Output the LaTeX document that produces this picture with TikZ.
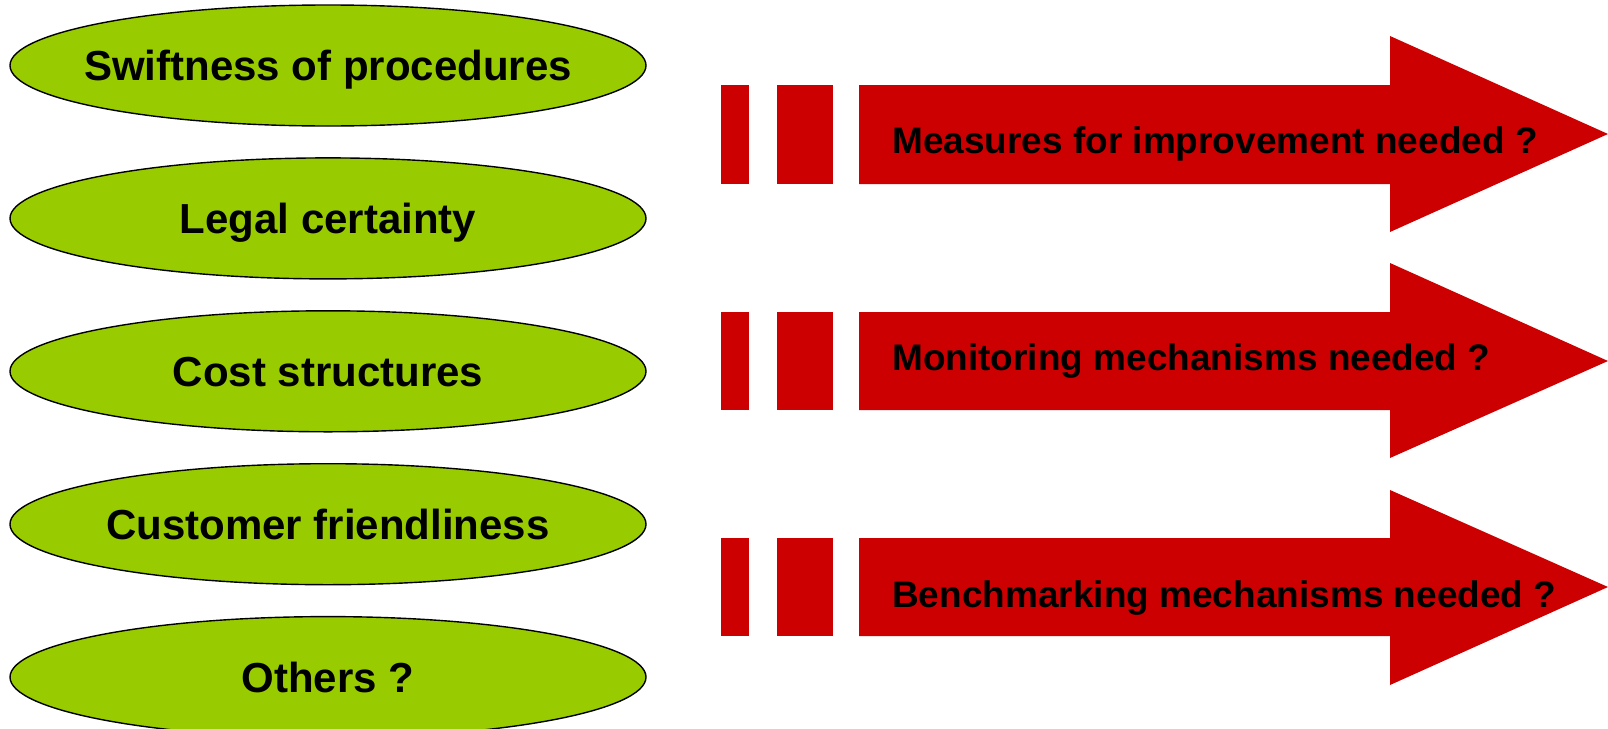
\documentclass[tikz,border=0pt]{standalone}
\usepackage{fontspec}
\setmainfont{Liberation Sans}
\usetikzlibrary{shapes.geometric,positioning}
\definecolor{leafgreen}{RGB}{153,204,0}
\definecolor{signalred}{RGB}{204,0,0}
\tikzset{topic/.style={ellipse,draw=black,line width=1.4pt,fill=leafgreen,minimum width=636pt,minimum height=121pt,inner ysep=0pt,inner xsep=-80pt,text height=30pt,text depth=0pt,font=\fontsize{42}{48}\selectfont\bfseries},
  question/.style={anchor=base west,inner sep=0pt,font=\fontsize{37}{44}\selectfont\bfseries},
  redbar/.style={fill=signalred}}

\begin{document}
\begin{tikzpicture}[x=1pt,y=-1pt]
                \useasboundingbox (0,0) rectangle (1608,728);
                \node[topic] (swift) at (328,65.5) {Swiftness of procedures};
                \node[topic,below=30.5pt of swift] (legal) {Legal certainty};
                \node[topic,below=30.5pt of legal] (cost) {Cost structures};
                \node[topic,below=30.5pt of cost] (customer) {Customer friendliness};
                \node[topic,below=30.5pt of customer] (others) {Others ?};
                % first arrow
                \fill[redbar] (721,85) rectangle (749,184);
                \fill[redbar] (777,85) rectangle (833,184);
                \fill[redbar] (859,85) -- (1390,85) -- (1390,36) -- (1608,134) -- (1390,232) -- (1390,184) -- (859,184) -- cycle;
                \node[question] (measures) at (892,153) {Measures for improvement needed ?};
                % second arrow
                \fill[redbar] (721,312) rectangle (749,410);
                \fill[redbar] (777,312) rectangle (833,410);
                \fill[redbar] (859,312) -- (1390,312) -- (1390,263) -- (1608,361) -- (1390,458) -- (1390,410) -- (859,410) -- cycle;
                \node[question] (monitoring) at (892,370) {Monitoring mechanisms needed ?};
                % third arrow
                \fill[redbar] (721,538) rectangle (749,636);
                \fill[redbar] (777,538) rectangle (833,636);
                \fill[redbar] (859,538) -- (1390,538) -- (1390,490) -- (1608,587) -- (1390,685) -- (1390,636) -- (859,636) -- cycle;
                \node[question] (benchmarking) at (892,607) {Benchmarking mechanisms needed ?};
            \end{tikzpicture}
\end{document}
